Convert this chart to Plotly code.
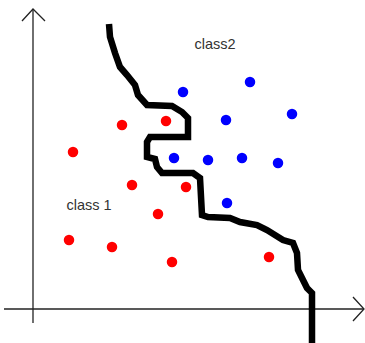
import plotly.graph_objects as go

# picture coordinates (pixels, y grows downward)
red_x = [122, 166, 73, 132, 186, 158, 69, 112, 172, 269]
red_y = [125, 121, 152, 185, 187, 214, 240, 247, 262, 257]

blue_x = [183, 250, 226, 292, 174, 208, 242, 278, 227]
blue_y = [92, 82, 120, 114, 158, 160, 158, 163, 203]

# hand drawn decision boundary
curve_x = [109, 110, 115, 120, 127, 135, 138, 147, 172, 182, 188, 188, 150, 147,
           147, 155, 157, 162, 193, 200, 202, 208, 230, 240, 257, 267, 283, 293,
           297, 298, 303, 307, 312, 312]
curve_y = [24, 37, 53, 67, 75, 85, 95, 105, 106, 112, 118, 137, 137, 142,
           157, 159, 167, 173, 173, 178, 215, 217, 218, 222, 225, 230, 240, 243,
           253, 270, 280, 288, 293, 343]

# axes with arrow heads
yaxis_x = [33, 33, None, 22, 33, 45]
yaxis_y = [323, 9, None, 21, 9, 21]
xaxis_x = [4, 364, None, 353, 364, 353]
xaxis_y = [309, 309, None, 297, 309, 321]

labels = ["class2", "class 1"]
label_x = [215, 89]
label_y = [45, 206]

fig = go.Figure()
fig.add_trace(go.Scatter(x=yaxis_x, y=yaxis_y, mode="lines",
                         line=dict(color="#222", width=1.3)))
fig.add_trace(go.Scatter(x=xaxis_x, y=xaxis_y, mode="lines",
                         line=dict(color="#222", width=1.3)))
fig.add_trace(go.Scatter(x=curve_x, y=curve_y, mode="lines",
                         line=dict(color="black", width=6.5)))
fig.add_trace(go.Scatter(x=red_x, y=red_y, mode="markers",
                         marker=dict(color="#ff0000", size=10.5)))
fig.add_trace(go.Scatter(x=blue_x, y=blue_y, mode="markers",
                         marker=dict(color="#0000ff", size=10.5)))
fig.add_trace(go.Scatter(x=label_x, y=label_y, mode="text", text=labels,
                         textfont=dict(family="Liberation Sans, Arial", size=14.5, color="#333")))

fig.update_layout(
    width=365, height=343,
    margin=dict(l=0, r=0, t=0, b=0),
    showlegend=False,
    plot_bgcolor="white", paper_bgcolor="white",
    xaxis=dict(range=[0, 365], visible=False, fixedrange=True),
    yaxis=dict(range=[343, 0], visible=False, fixedrange=True),
)

# drop the default page margin so the figure sits at the window corner
fig.write_html("out.html", config={"displayModeBar": False},
               post_script="document.body.style.margin='0';document.body.style.overflow='hidden';")
